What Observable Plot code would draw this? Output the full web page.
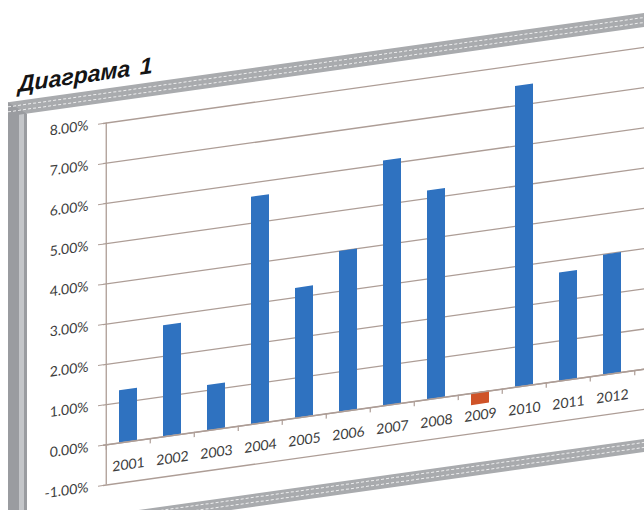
<!DOCTYPE html>
<html>
<head>
<meta charset="utf-8">
<script src="https://cdn.jsdelivr.net/npm/d3@7"></script>
<script src="https://cdn.jsdelivr.net/npm/@observablehq/plot@0.6"></script>
<style>
  html, body { margin: 0; padding: 0; background: #ffffff; overflow: hidden; width: 644px; height: 510px; }
  #page { position: absolute; left: 0; top: 0; width: 644px; height: 620px;
          transform: skewY(-8deg); transform-origin: 103px 0; }
  #chart { position: absolute; left: 0; top: 0; }
  #title { position: absolute; left: 18px; top: 61px; font: italic bold 23px "Liberation Sans", Arial, sans-serif;
           line-height: 23px; color: #141414; white-space: nowrap; word-spacing: 3px; }
  #frame { position: absolute; left: 8px; top: 89px; width: 720px; height: 540px; box-sizing: border-box;
           border-top: 14px solid #a9abae; border-left: 19px solid #9a9ca0; }
  #frame::before { content: ""; position: absolute; left: -19px; right: 0; top: -10px; height: 4px;
           border-top: 1px dashed rgba(255,255,255,0.8); border-bottom: 1px dashed rgba(255,255,255,0.8); }
  #frame::after { content: ""; position: absolute; left: -8px; top: 0; bottom: 0; width: 5px; background: #c4c6c9; }
  #bottomBand { position: absolute; left: 0; top: 515px; width: 760px; height: 13px; background: #a9abae; }
  #bottomBand::before { content: ""; position: absolute; left: 0; right: 0; top: 3px; height: 4px;
           border-top: 1px dashed rgba(255,255,255,0.8); border-bottom: 1px dashed rgba(255,255,255,0.8); }
</style>
</head>
<body>
<div id="page">
  <div id="chart"></div>
  <div id="frame"></div>
  <div id="bottomBand"></div>
  <div id="title"></div>
</div>
<script>
// ---- data ----
const titleText = "Диаграма 1";
const years = [2001, 2002, 2003, 2004, 2005, 2006, 2007, 2008, 2009, 2010, 2011, 2012];
const values = [1.30, 2.76, 1.12, 5.65, 3.23, 3.99, 6.09, 5.19, -0.30, 7.48, 2.69, 2.98]; // percent
const yTicks = [-1, 0, 1, 2, 3, 4, 5, 6, 7, 8];

// ---- styles ----
const blue = "#2f72c0";
const red = "#cf5328";
const gridColor = "#ad9d96";
const textColor = "#3d3d3d";

document.getElementById("title").textContent = titleText;

const W = 644, H = 510, ML = 103, MR = 7, MT = 123, MB = 25;
const step = (W - ML - MR) / years.length;
const data = years.map((y, i) => ({year: y, value: values[i]}));

const chart = Plot.plot({
  width: W, height: H,
  marginLeft: ML, marginRight: MR, marginTop: MT, marginBottom: MB,
  style: {background: "transparent", fontFamily: "Lato, 'Open Sans', sans-serif", fontSize: "14px", color: textColor, overflow: "visible"},
  x: {type: "band", domain: years, paddingInner: 0.6, paddingOuter: 0.3, axis: null},
  y: {domain: [-1, 8]},
  marks: [
    Plot.ruleY(yTicks, {stroke: gridColor, strokeWidth: 1.3, insetRight: -7}),
    Plot.axisY({ticks: yTicks, tickFormat: d => d.toFixed(2) + "%", tickSize: 5, tickPadding: 10,
                stroke: gridColor, fill: textColor, fontSize: 14, label: null}),
    Plot.ruleX([years[0]], {x: d => d, y1: -1, y2: 8, dx: -step / 2, stroke: gridColor, strokeWidth: 1.3}),
    Plot.ruleX(years, {x: d => d, y1: 0, y2: -0.13, dx: -step / 2, stroke: gridColor, strokeWidth: 1.2}),
    Plot.ruleX([years[years.length - 1]], {x: d => d, y1: 0, y2: -0.13, dx: step / 2, stroke: gridColor, strokeWidth: 1.2}),
    Plot.barY(data.filter(d => d.value >= 0), {x: "year", y: "value", fill: blue}),
    Plot.barY(data.filter(d => d.value < 0), {x: "year", y: "value", fill: red}),
    Plot.ruleY([0], {stroke: gridColor, strokeWidth: 1.5, insetRight: -7}),
    Plot.text(years, {x: d => d, y: 0, dy: 23, text: d => String(d), fill: textColor, fontSize: 14})
  ]
});
document.getElementById("chart").appendChild(chart);
</script>
</body>
</html>
